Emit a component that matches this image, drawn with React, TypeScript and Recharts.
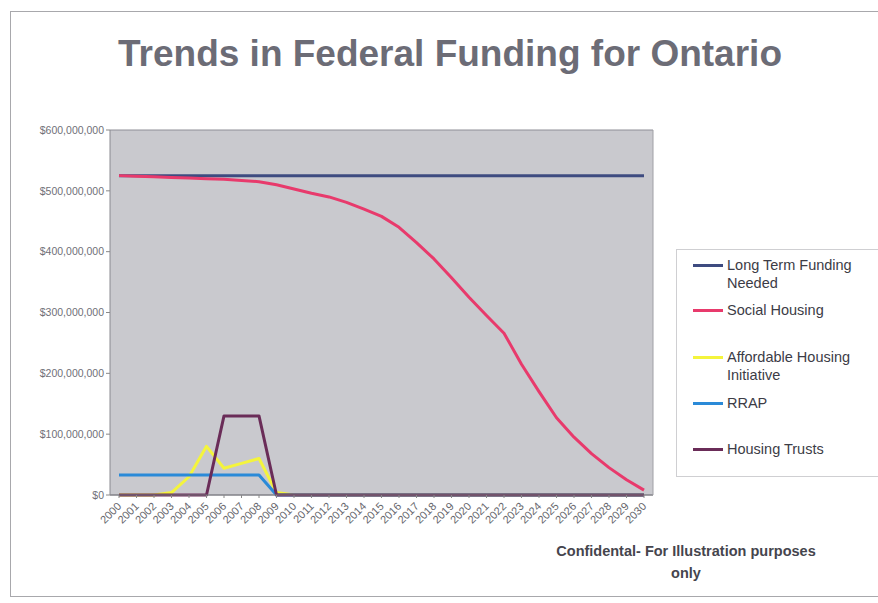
import { LineChart, Line, XAxis, YAxis, CartesianGrid } from "recharts";

const years = [
  "2000", "2001", "2002", "2003", "2004", "2005", "2006", "2007", "2008", "2009",
  "2010", "2011", "2012", "2013", "2014", "2015", "2016", "2017", "2018", "2019",
  "2020", "2021", "2022", "2023", "2024", "2025", "2026", "2027", "2028", "2029", "2030",
];

// values in millions of dollars
const longTermNeeded = [
  525, 525, 525, 525, 525, 525, 525, 525, 525, 525,
  525, 525, 525, 525, 525, 525, 525, 525, 525, 525,
  525, 525, 525, 525, 525, 525, 525, 525, 525, 525, 525,
];
const socialHousing = [
  525, 524, 523, 522, 521, 520, 519, 517, 515, 510,
  503, 496, 490, 481, 470, 458, 440, 415, 388, 357,
  325, 295, 266, 215, 170, 127, 95, 68, 45, 25, 8,
];
const affordableHousing = [
  0, 0, 0, 4, 30, 80, 44, 52, 60, 4,
  0, 0, 0, 0, 0, 0, 0, 0, 0, 0,
  0, 0, 0, 0, 0, 0, 0, 0, 0, 0, 0,
];
const rrap = [
  33, 33, 33, 33, 33, 33, 33, 33, 33, 0,
  0, 0, 0, 0, 0, 0, 0, 0, 0, 0,
  0, 0, 0, 0, 0, 0, 0, 0, 0, 0, 0,
];
const housingTrusts = [
  0, 0, 0, 0, 0, 0, 130, 130, 130, 0,
  0, 0, 0, 0, 0, 0, 0, 0, 0, 0,
  0, 0, 0, 0, 0, 0, 0, 0, 0, 0, 0,
];

const yTicks = [0, 100, 200, 300, 400, 500, 600];

const SERIES = [
  { key: "longTerm", label: ["Long Term Funding", "Needed"], color: "#3e4b80", top: 264 },
  { key: "social", label: ["Social Housing"], color: "#e83a6c", top: 309 },
  { key: "affordable", label: ["Affordable Housing", "Initiative"], color: "#f4f43c", top: 356 },
  { key: "rrap", label: ["RRAP"], color: "#2a8ad8", top: 402 },
  { key: "trusts", label: ["Housing Trusts"], color: "#6a2c58", top: 448 },
];

const data = years.map((year, i) => ({
  year,
  longTerm: longTermNeeded[i] * 1e6,
  social: socialHousing[i] * 1e6,
  affordable: affordableHousing[i] * 1e6,
  rrap: rrap[i] * 1e6,
  trusts: housingTrusts[i] * 1e6,
}));

function formatDollars(v: number) {
  return "$" + v.toLocaleString("en-US");
}

function YearTick({ x, y, payload }: any) {
  return (
    <text
      x={x + 3}
      y={y + 7}
      transform={`rotate(-45, ${x + 3}, ${y + 7})`}
      textAnchor="end"
      fontSize={11}
      fill="#66666c"
      fontFamily="Liberation Sans, Arial, sans-serif"
    >
      {payload.value}
    </text>
  );
}

function LegendBox() {
  return (
    <div
      style={{
        position: "absolute",
        left: 676,
        top: 249,
        width: 210,
        height: 226,
        border: "1px solid #cfcfd2",
        background: "#fff",
        fontFamily: "Liberation Sans, Arial, sans-serif",
        fontSize: 14.5,
        color: "#3c3c46",
      }}
    >
      {SERIES.map((s) => (
        <div key={s.key} style={{ position: "absolute", left: 16, top: s.top - 249 - 9 }}>
          <div
            style={{
              position: "absolute",
              left: 0,
              top: 8,
              width: 30,
              height: 3,
              background: s.color,
            }}
          />
          <div style={{ position: "absolute", left: 34, top: 0, lineHeight: "18px", whiteSpace: "nowrap" }}>
            {s.label.map((l) => (
              <div key={l}>{l}</div>
            ))}
          </div>
        </div>
      ))}
    </div>
  );
}

export default function App() {
  return (
    <div
      style={{
        position: "absolute",
        left: 0,
        top: 0,
        width: 878,
        height: 603,
        background: "#fff",
        overflow: "hidden",
        fontFamily: "Liberation Sans, Arial, sans-serif",
      }}
    >
      <div
        style={{
          position: "absolute",
          left: 10,
          top: 11,
          width: 900,
          height: 584,
          border: "1px solid #a8a8ac",
        }}
      />
      <div
        style={{
          position: "absolute",
          left: 0,
          width: 900,
          top: 33,
          textAlign: "center",
          fontSize: 37,
          fontWeight: "bold",
          color: "#6c6c76",
          lineHeight: "42px",
        }}
      >
        Trends in Federal Funding for Ontario
      </div>
      <div style={{ position: "absolute", left: 0, top: 0 }}>
        <LineChart
          width={878}
          height={603}
          data={data}
          margin={{ top: 130, right: 224, bottom: 48, left: 8 }}
        >
          <CartesianGrid vertical={false} stroke="#8e8e96" fill="#c9c9ce" />
          <XAxis
            dataKey="year"
            interval={0}
            padding={{ left: 9, right: 9 }}
            tick={<YearTick />}
            tickLine={{ stroke: "#888" }}
            tickSize={3}
            axisLine={{ stroke: "#7a7a80" }}
            height={60}
          />
          <YAxis
            yAxisId="left"
            domain={[0, 600e6]}
            ticks={yTicks.map((t) => t * 1e6)}
            interval={0}
            tickFormatter={formatDollars}
            tick={{ fontSize: 10.5, fill: "#707078" }}
            tickLine={{ stroke: "#888" }}
            tickSize={4}
            axisLine={{ stroke: "#8a8a90" }}
            width={102}
          />
          <YAxis
            yAxisId="right"
            orientation="right"
            domain={[0, 600e6]}
            tick={false}
            tickLine={false}
            axisLine={{ stroke: "#a0a0a6" }}
            width={1}
          />
          {SERIES.map((s) => (
            <Line
              key={s.key}
              yAxisId="left"
              type="linear"
              dataKey={s.key}
              stroke={s.color}
              strokeWidth={3}
              strokeLinejoin="round"
              dot={false}
              isAnimationActive={false}
            />
          ))}
        </LineChart>
      </div>
      <LegendBox />
      <div
        style={{
          position: "absolute",
          left: 536,
          width: 300,
          top: 540,
          textAlign: "center",
          fontSize: 14.5,
          fontWeight: "bold",
          color: "#45454d",
          lineHeight: "22px",
        }}
      >
        Confidental- For Illustration purposes
        <br />
        only
      </div>
    </div>
  );
}
